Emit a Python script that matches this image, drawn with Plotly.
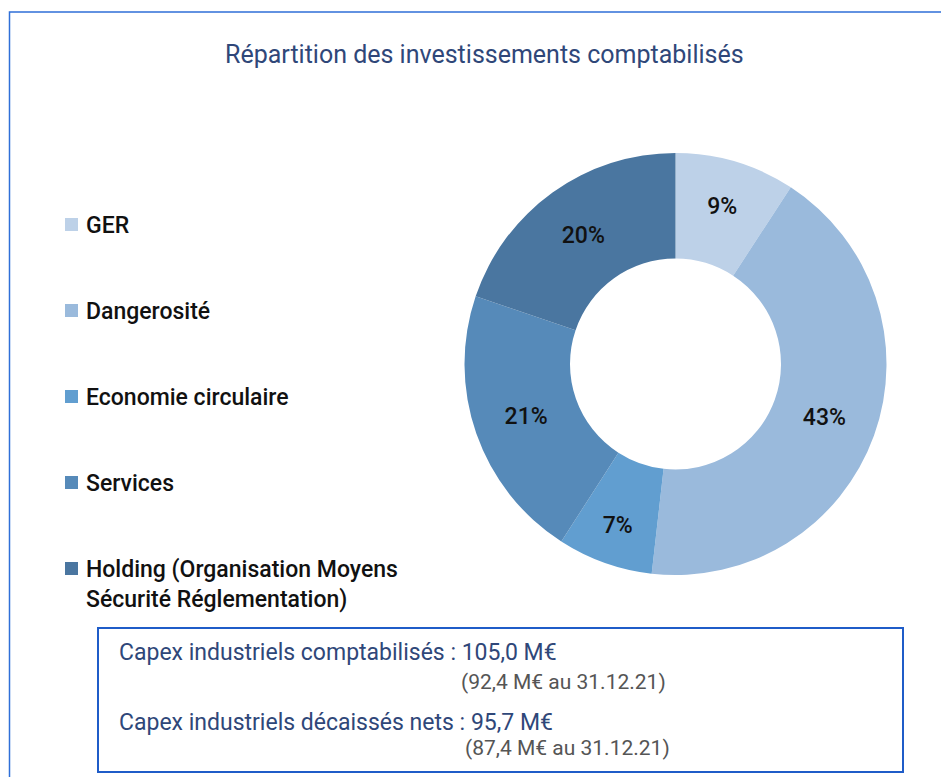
import plotly.graph_objects as go

W, H = 949, 777

# data
labels = ['GER', 'Dangerosité', 'Economie circulaire', 'Services',
          'Holding (Organisation Moyens<br>Sécurité Réglementation)']
shares = [9.2, 42.6, 7.3, 21.1, 19.8]
colors = ['#BDD1E8', '#9ABADC', '#619ED0', '#568AB9', '#4A76A0']

title = 'Répartition des investissements comptabilisés'
capex_lines = ['Capex industriels comptabilisés : 105,0 M€',
               '(92,4 M€ au 31.12.21)',
               'Capex industriels décaissés nets : 95,7 M€',
               '(87,4 M€ au 31.12.21)']

FONT = 'Roboto'
NAVY = '#2F4779'
OFF = 8  # page body margin


def px(x):
    return (x - OFF) / W


def py(y):
    return 1 - (y - OFF) / H


fig = go.Figure()

# donut: center ~ (675, 364), radius ~211 px
cx, cy, r = 675.5, 364, 211
fig.add_trace(go.Pie(
    labels=labels, values=shares, hole=0.5, sort=False, direction='clockwise',
    rotation=0, marker=dict(colors=colors, line=dict(width=0)),
    texttemplate='%{percent:.0%}', textposition='inside', insidetextorientation='horizontal',
    textfont=dict(family=FONT, size=23, color='#111111', weight=500),
    domain=dict(x=[px(cx - r), px(cx + r)], y=[py(cy + r), py(cy - r)]),
    showlegend=False, hoverinfo='label+percent',
))

shapes = []
annotations = []

# outer frame (runs off the right and bottom edge)
shapes.append(dict(type='rect', xref='paper', yref='paper',
                   x0=px(9.5), x1=px(W + 30), y0=py(H + 30), y1=py(12),
                   line=dict(color='#2F6FD8', width=1.5)))

annotations.append(dict(text=title, x=px(484), y=py(54), xref='paper', yref='paper',
                        showarrow=False, xanchor='center', yanchor='middle',
                        font=dict(family=FONT, size=25, color=NAVY)))

# hand-made legend
leg_y = [225, 311, 397, 483, 569]
for lab, col, yy in zip(labels, colors, leg_y):
    shapes.append(dict(type='rect', xref='paper', yref='paper',
                       x0=px(65), x1=px(78), y0=py(yy + 6), y1=py(yy - 7),
                       fillcolor=col, line=dict(width=0)))
    annotations.append(dict(text=lab, x=px(84), y=py(yy - 15), xref='paper', yref='paper',
                            showarrow=False, xanchor='left', yanchor='top', align='left',
                            font=dict(family=FONT, size=23, color='#111111', weight=500)))

# capex box
shapes.append(dict(type='rect', xref='paper', yref='paper',
                   x0=px(98), x1=px(903), y0=py(772), y1=py(628),
                   line=dict(color='#1F5CC8', width=2)))
txt_pos = [(117, 652, NAVY, 'left', 23), (668, 682, '#555555', 'right', 21),
           (117, 722, NAVY, 'left', 23), (672, 748, '#555555', 'right', 21)]
for line, (xx, yy, col, anc, sz) in zip(capex_lines, txt_pos):
    annotations.append(dict(text=line, x=px(xx), y=py(yy), xref='paper', yref='paper',
                            showarrow=False, xanchor=anc, yanchor='middle',
                            font=dict(family=FONT, size=sz, color=col)))

fig.update_layout(
    width=W, height=H, margin=dict(l=0, r=0, t=0, b=0),
    paper_bgcolor='white', plot_bgcolor='white',
    shapes=shapes, annotations=annotations,
)

fig.write_html('out.html')
